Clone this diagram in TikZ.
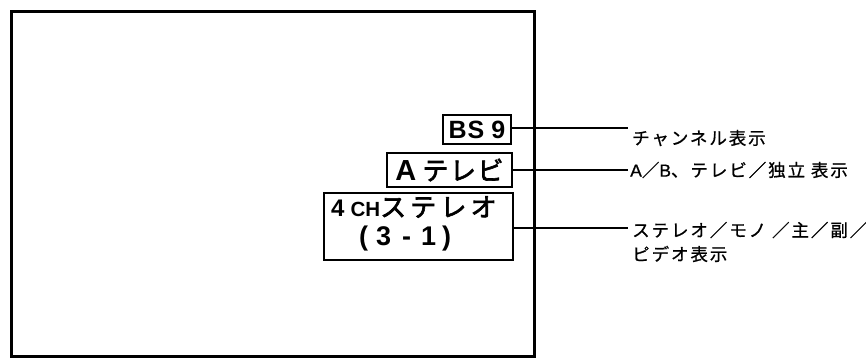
\documentclass[tikz,border=0pt]{standalone}
\usepackage{fontspec}
\setmainfont{Noto Sans CJK JP}
\newfontfamily\lat{Liberation Sans}
\newfontfamily\latl[FakeBold=0.8]{Liberation Sans}
\newfontfamily\lblfont[LetterSpace=11,FakeBold=0.8]{Noto Sans CJK JP}
\newfontfamily\bcjk[LetterSpace=6,FakeBold=2.5]{Noto Sans CJK JP}
\newfontfamily\bcjkw[LetterSpace=16,FakeBold=2.5]{Noto Sans CJK JP}
\begin{document}
\begin{tikzpicture}[x=1pt,y=-1pt,
  frame/.style={draw,line width=3pt},
  dispbox/.style={draw,line width=2.2pt,inner sep=0pt},
  conn/.style={line width=2pt},
  lbl/.style={anchor=west,inner sep=0pt,font=\lblfont\fontsize{17.5}{24}\selectfont,align=left}]
\useasboundingbox (0,0) rectangle (866,359);
\draw[frame] (11,11.5) rectangle (534,356.5);
\node[dispbox,minimum width=68pt,minimum height=29pt] (bs) at (477,129.5)
  {\lat\bfseries\fontsize{25}{25}\selectfont B\hspace{1pt}S\hspace{7pt}9};
\node[dispbox,minimum width=125pt,minimum height=34pt] (a) at (449.5,170)
  {{\lat\bfseries\fontsize{29}{29}\selectfont A}\hspace{6pt}{\bcjk\fontsize{26}{26}\selectfont テレビ}};
\node[dispbox,minimum width=189pt,minimum height=67pt] (ch) at (418.5,226.5) {};
\node[inner sep=0pt,anchor=west] (ch1) at (331,207)
  {{\lat\bfseries\fontsize{24}{24}\selectfont 4\hspace{6pt}}{\lat\bfseries\fontsize{20.5}{20.5}\selectfont CH}{\bcjkw\fontsize{26}{26}\selectfont ステレオ}};
\node[inner sep=0pt,anchor=west] (ch2) at (359,239)
  {\lat\bfseries\fontsize{27}{27}\selectfont (\hspace{8pt}3\hspace{11pt}-\hspace{10pt}1\hspace{6pt})};
\coordinate (e1) at (628,128);
\coordinate (e2) at (628,170);
\coordinate (e3) at (628,228);
\draw[conn] (bs.east |- e1) -- (e1);
\draw[conn] (a.east |- e2) -- (e2);
\draw[conn] (ch.east |- e3) -- (e3);
\node[lbl] (l1) at (632,138) {チャンネル表示};
\node[lbl] (l2) at (630,170) {{\latl A}／{\latl B}、テレビ／独立 表示};
\node[lbl] (l3) at (632,242) {ステレオ／モノ ／主／副／\\ピデオ表示};
\end{tikzpicture}
\end{document}
